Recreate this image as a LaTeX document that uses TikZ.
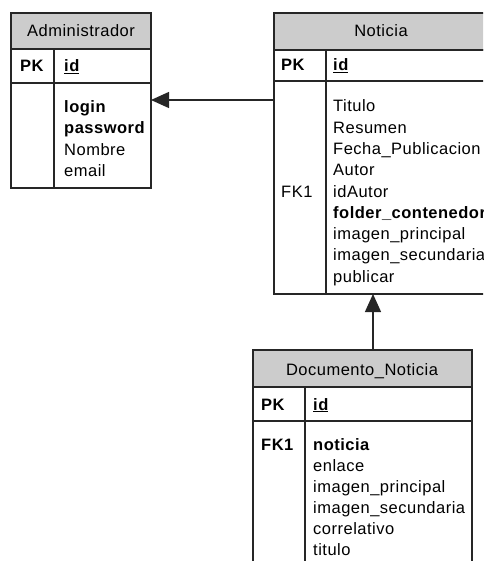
\documentclass[tikz,border=0pt]{standalone}
\usepackage{fontspec}
\setmainfont{Liberation Sans}[LetterSpace=3]
\usetikzlibrary{arrows.meta}
\begin{document}
\begin{tikzpicture}[x=1pt,y=-1pt,
  boxline/.style={draw=black!85,line width=1.3pt},
  hdr/.style={boxline,fill=black!20},
  txt/.style={anchor=base west,inner sep=0pt,font=\fontsize{16.5}{19}\selectfont},
  ttl/.style={anchor=base,inner sep=0pt,font=\fontsize{16.5}{19}\selectfont},
  rel/.style={line width=1.3pt,draw=black!85,-{Triangle[length=18pt,width=16pt]}}]
\useasboundingbox (0,0) rectangle (483,561);
\clip (0,0) rectangle (483,561);
% Administrador
\draw[hdr] (11,13) rectangle (151,49);
\draw[boxline] (11,49) rectangle (151,188);
\draw[boxline] (11,83) -- (151,83);
\draw[boxline] (54,49) -- (54,188);
\node[ttl] (adt) at (81,37) {Administrador};
\node[txt] (adpk) at (20,72) {\bfseries PK};
\node[txt] (adid) at (64,72) {\bfseries\underline{id}};
\node[txt] (ad1) at (64,113) {\bfseries login};
\node[txt] (ad2) at (64,134) {\bfseries password};
\node[txt] (ad3) at (64,156) {Nombre};
\node[txt] (ad4) at (64,177) {email};
\coordinate (adr) at (151,100);
% Noticia
\draw[hdr] (274,13) rectangle (489,50);
\draw[boxline] (274,50) rectangle (489,294);
\draw[boxline] (274,81) -- (489,81);
\draw[boxline] (326,50) -- (326,294);
\node[ttl] (not) at (381,37) {Noticia};
\node[txt] (nopk) at (281,71) {\bfseries PK};
\node[txt] (noid) at (333,71) {\bfseries\underline{id}};
\node[txt] (nofk) at (281,197) {FK1};
\node[txt] (n1) at (333,112) {Titulo};
\node[txt] (n2) at (333,133.25) {Resumen};
\node[txt] (n3) at (333,154.5) {Fecha\_Publicacion};
\node[txt] (n4) at (333,175.75) {Autor};
\node[txt] (n5) at (333,197) {idAutor};
\node[txt] (n6) at (333,218.25) {\bfseries folder\_contenedor};
\node[txt] (n7) at (333,239.5) {imagen\_principal};
\node[txt] (n8) at (333,260.75) {imagen\_secundaria};
\node[txt] (n9) at (333,282) {publicar};
\coordinate (nol) at (274,100);
\coordinate (nob) at (373,294);
% Documento_Noticia
\draw[hdr] (253,350) rectangle (472,387);
\draw[boxline] (253,387) rectangle (472,580);
\draw[boxline] (253,421) -- (472,421);
\draw[boxline] (305,387) -- (305,580);
\node[ttl] (dot) at (362,375) {Documento\_Noticia};
\node[txt] (dopk) at (261,410) {\bfseries PK};
\node[txt] (doid) at (313,410) {\bfseries\underline{id}};
\node[txt] (dofk) at (261,450) {\bfseries FK1};
\node[txt] (d1) at (313,450) {\bfseries noticia};
\node[txt] (d2) at (313,471) {enlace};
\node[txt] (d3) at (313,492) {imagen\_principal};
\node[txt] (d4) at (313,513) {imagen\_secundaria};
\node[txt] (d5) at (313,534) {correlativo};
\node[txt] (d6) at (313,555) {titulo};
\coordinate (dotop) at (373,350);
% relations
\draw[rel] (nol) -- (adr);
\draw[rel] (dotop) -- (nob);
\end{tikzpicture}
\end{document}
